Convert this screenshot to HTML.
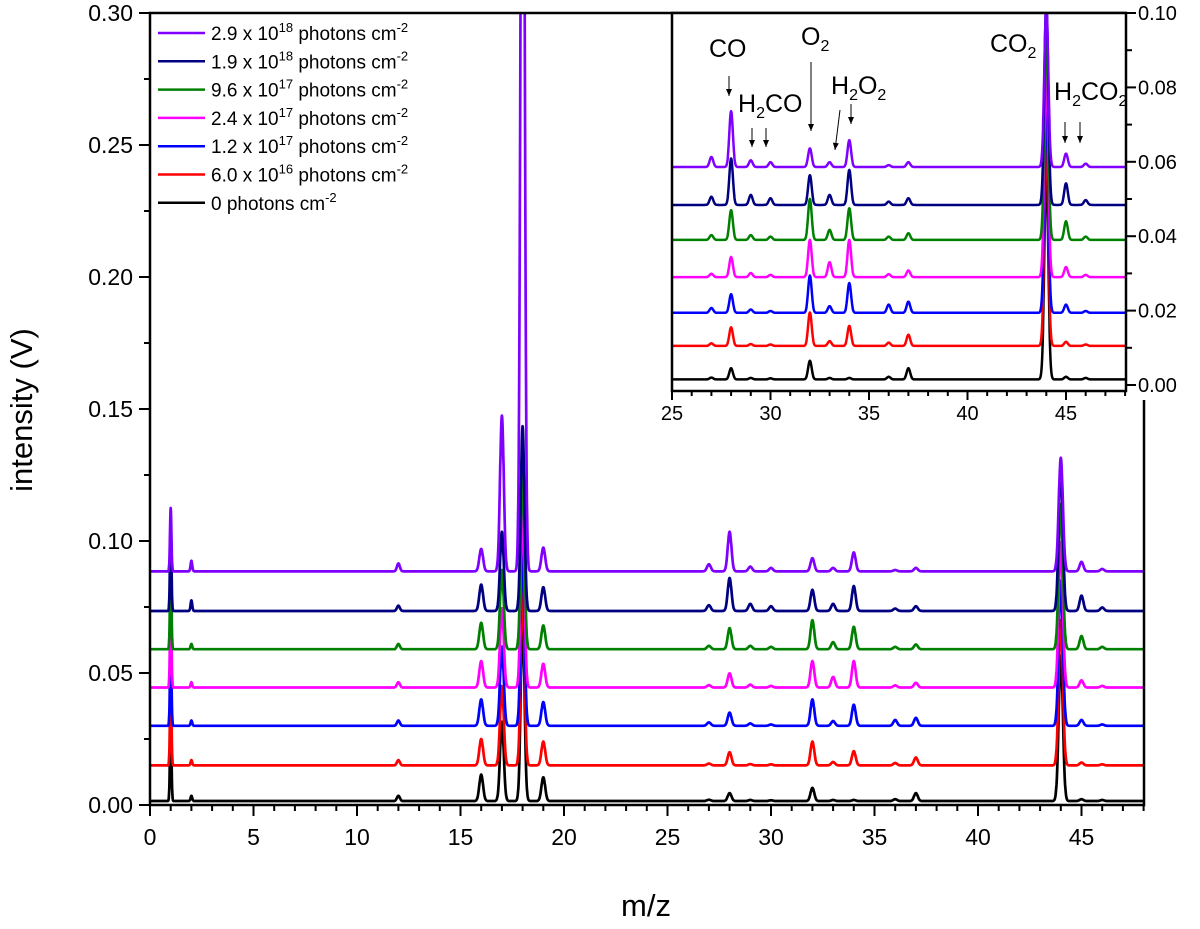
<!DOCTYPE html>
<html><head><meta charset="utf-8"><style>
body{margin:0;background:#fff}
svg text{font-family:"Liberation Sans",Arial,sans-serif;fill:#000}
</style></head><body>
<svg id="c" width="1200" height="924" viewBox="0 0 1200 924">
<defs>
<clipPath id="mainclip"><rect x="150" y="13" width="994" height="792"/></clipPath>
<clipPath id="insclip"><rect x="672" y="13" width="454" height="378"/></clipPath>
</defs>
<g id="main"></g>
<g id="inset"></g>
</svg>
<script>
const seriesNames=["0 photons","6.0e16","1.2e17","2.4e17","9.6e17","1.9e18","2.9e18"];
const seriesColors=["#000000","#ff0000","#0000ff","#ff00ff","#008000","#000080","#8000ff"];
const mainOffsets=[0.0015,0.015,0.030,0.0445,0.059,0.0735,0.0885];
const insetOffsets=[0.0015,0.0105,0.0194,0.029,0.039,0.0484,0.0586];
const massPeaks=[1,2,12,16,17,18,19,27,28,29,30,32,33,34,36,37,44,45,46];
const peakWidths=[0.035,0.04,0.07,0.09,0.09,0.09,0.09,0.09,0.09,0.09,0.09,0.09,0.09,0.09,0.09,0.09,0.1,0.09,0.09];
const h0=[0.035,0.002,0.002,0.010,0.030,0.070,0.009,0.0005,0.003,0.0004,0.0003,0.005,0.0004,0.0004,0.0007,0.003,0.055,0.0007,0.0004];
const h1=[0.035,0.002,0.002,0.010,0.030,0.070,0.009,0.0007,0.005,0.0005,0.0004,0.009,0.0013,0.0054,0.0009,0.003,0.055,0.0011,0.0004];
const h2=[0.035,0.002,0.002,0.010,0.030,0.070,0.009,0.0013,0.005,0.0009,0.0005,0.010,0.0018,0.008,0.0022,0.003,0.055,0.0022,0.0005];
const h3=[0.035,0.002,0.002,0.010,0.030,0.070,0.009,0.0009,0.0054,0.0011,0.0006,0.010,0.004,0.010,0.0008,0.0018,0.055,0.0027,0.0006];
const h4=[0.035,0.002,0.002,0.010,0.030,0.070,0.009,0.0013,0.008,0.0013,0.0009,0.011,0.0027,0.0085,0.0009,0.0018,0.055,0.005,0.0009];
const h5=[0.035,0.004,0.002,0.010,0.030,0.070,0.009,0.0022,0.0125,0.0027,0.0018,0.008,0.0027,0.0094,0.0009,0.0018,0.055,0.0058,0.0013];
const h6=[0.024,0.004,0.003,0.0085,0.059,0.400,0.009,0.0027,0.015,0.0018,0.0013,0.005,0.0013,0.0072,0.0005,0.0013,0.043,0.0036,0.0009];
const heights=[h0,h1,h2,h3,h4,h5,h6];
const mainXTicks=[0,5,10,15,20,25,30,35,40,45];
const mainYTicks=[0,0.05,0.10,0.15,0.20,0.25,0.30];
const insetXTicks=[25,30,35,40,45];
const insetYTicks=[0,0.02,0.04,0.06,0.08,0.10];
const legendLabels=[["2.9 x 10","18"],["1.9 x 10","18"],["9.6 x 10","17"],["2.4 x 10","17"],["1.2 x 10","17"],["6.0 x 10","16"],["0 ",""]];
const legendColors=["#8000ff","#000080","#008000","#ff00ff","#0000ff","#ff0000","#000000"];

const NS="http://www.w3.org/2000/svg";
function mk(tag,attrs,parent){const e=document.createElementNS(NS,tag);for(const k in attrs)e.setAttribute(k,attrs[k]);parent.appendChild(e);return e;}
const mx=v=>150+v*20.7, my=v=>805-v*2640;
const ix=v=>672+(v-25)*19.7, iy=v=>385-v*3720;
function signal(h,off,x){let s=off;for(let i=0;i<massPeaks.length;i++){const d=(x-massPeaks[i])/peakWidths[i];if(Math.abs(d)<6)s+=h[i]*Math.exp(-d*d/2);}return s;}
function pathFor(h,off,xs,xe,fx,fy){let d="";for(let x=xs;x<=xe+1e-9;x+=0.01){d+=(d?"L":"M")+fx(x).toFixed(1)+","+fy(signal(h,off,x)).toFixed(1);}return d;}

const main=document.getElementById('main');
const inset=document.getElementById('inset');
const mt=mk('g',{'clip-path':'url(#mainclip)'},main);
for(let s=0;s<7;s++){
  const p=mk('path',{d:pathFor(heights[s],mainOffsets[s],0,48,mx,my),fill:'none',stroke:seriesColors[s],'stroke-width':2.7,'stroke-linejoin':'round'},mt);
  
  
}
mk('rect',{x:150,y:13,width:994,height:792,fill:'none',stroke:'#000','stroke-width':2.5},main);
for(let v=0;v<=48;v++){const x=mx(v);mk('line',{x1:x,y1:805,x2:x,y2:v%5==0?816:811,stroke:'#000','stroke-width':2},main);}
mainXTicks.forEach(v=>{const t=mk('text',{x:mx(v),y:845,'text-anchor':'middle','font-size':23},main);t.textContent=v;
  
  });
for(let i=0;i<=12;i++){const v=i*0.025,y=my(v);mk('line',{x1:150,y1:y,x2:i%2==0?139:144,y2:y,stroke:'#000','stroke-width':2},main);}
mainYTicks.forEach(v=>{const t=mk('text',{x:133,y:my(v)+8,'text-anchor':'end','font-size':23},main);t.textContent=v.toFixed(2);
  
  });
let t=mk('text',{x:646,y:916,'text-anchor':'middle','font-size':31},main);t.textContent='m/z';


t=mk('text',{x:0,y:0,'text-anchor':'middle','font-size':31,transform:'translate(32,410) rotate(-90)'},main);t.textContent='intensity (V)';


legendLabels.forEach((l,i)=>{const y=33+i*28.3;
  const g=mk('g',{},main);
  
  
  mk('line',{x1:158,y1:y,x2:205,y2:y,stroke:legendColors[i],'stroke-width':2.5},g);
  const tx=mk('text',{x:211,y:y+7,'font-size':19},g);
  tx.innerHTML=l[0]+(l[1]?'<tspan dy="-8" font-size="13">'+l[1]+'</tspan><tspan dy="8"> photons cm</tspan>':' photons cm')+'<tspan dy="-8" font-size="13">-2</tspan>';
});
mk('rect',{x:1127,y:0,width:73,height:400,fill:'#fff'},inset);
mk('rect',{x:672,y:13,width:454,height:378,fill:'#fff'},inset);
const it=mk('g',{'clip-path':'url(#insclip)'},inset);
for(let s=0;s<7;s++){
  const p=mk('path',{d:pathFor(heights[s],insetOffsets[s],25,48,ix,iy),fill:'none',stroke:seriesColors[s],'stroke-width':2.5,'stroke-linejoin':'round'},it);
  
  
}
mk('rect',{x:672,y:13,width:454,height:378,fill:'none',stroke:'#000','stroke-width':2.5},inset);
for(let v=25;v<=48;v++){const x=ix(v);mk('line',{x1:x,y1:391,x2:x,y2:v%5==0?400:396,stroke:'#000','stroke-width':2},inset);}
insetXTicks.forEach(v=>{const t=mk('text',{x:ix(v),y:420,'text-anchor':'middle','font-size':20},inset);t.textContent=v;
  
  });
for(let i=0;i<=10;i++){const v=i*0.01,y=iy(v);mk('line',{x1:1126,y1:y,x2:i%2==0?1136:1132,y2:y,stroke:'#000','stroke-width':2},inset);}
insetYTicks.forEach(v=>{const t=mk('text',{x:1138,y:iy(v)+7,'font-size':20},inset);t.textContent=v.toFixed(2);
  
  });
function lab(x,y,html,name){const t=mk('text',{x:x,y:y,'font-size':25},inset);t.innerHTML=html;
  
  }
function arrow(x1,y1,x2,y2){mk('line',{x1:x1,y1:y1,x2:x2,y2:y2,stroke:'#000','stroke-width':1},inset);
  const a=Math.atan2(y2-y1,x2-x1),L=7,w=3;
  const p=[[x2,y2],[x2-L*Math.cos(a)+w*Math.sin(a),y2-L*Math.sin(a)-w*Math.cos(a)],[x2-L*Math.cos(a)-w*Math.sin(a),y2-L*Math.sin(a)+w*Math.cos(a)]];
  mk('polygon',{points:p.map(q=>q.join(',')).join(' '),fill:'#000'},inset);}
const sub='<tspan dy="6" font-size="16">2</tspan><tspan dy="-6">';
lab(709,57,'CO','label-co');
lab(738,112,'H'+sub+'CO</tspan>','label-h2co');
lab(801,45,'O'+sub+'</tspan>','label-o2');
lab(831,94,'H'+sub+'O</tspan>'+sub+'</tspan>','label-h2o2');
lab(990,52,'CO'+sub+'</tspan>','label-co2');
lab(1054,100,'H'+sub+'CO</tspan>'+sub+'</tspan>','label-h2co2');
arrow(729,76,729,96);
arrow(752,128,752,147);arrow(766,128,766,147);
arrow(811,62,811,131);
arrow(851,104,851,124);arrow(840,110,835,150);
arrow(1065,122,1065,143);arrow(1080,122,1080,143);
</script>
</body></html>
